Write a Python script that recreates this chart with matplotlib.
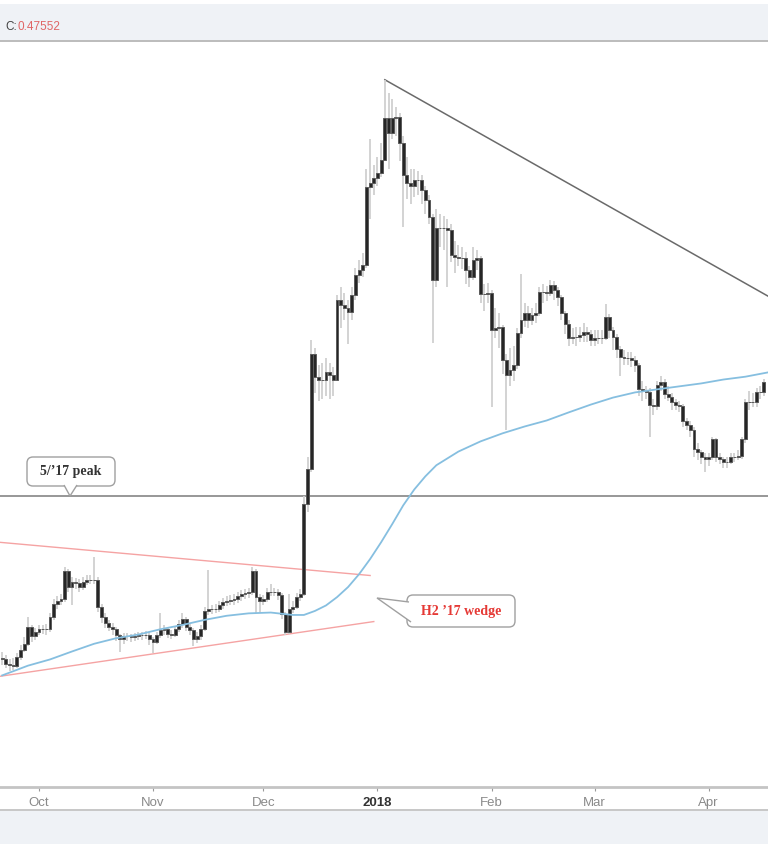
import matplotlib
matplotlib.use('Agg')
import matplotlib.pyplot as plt
import matplotlib.dates as mdates
import matplotlib.transforms as mtransforms
from matplotlib.patches import FancyBboxPatch, Polygon, Rectangle
import numpy as np
import pandas as pd

W, H = 768, 844

# daily candles, first one on 2017-09-21
start_day = '2017-09-21'
first_open = 0.190
closes = [
    0.189, 0.185, 0.184, 0.183, 0.191, 0.199, 0.205, 0.224, 0.213, 0.218,
    0.221, 0.221, 0.221, 0.235, 0.252, 0.256, 0.258, 0.299, 0.275, 0.282,
    0.281, 0.275, 0.283, 0.285, 0.285, 0.286, 0.248, 0.235, 0.228, 0.224,
    0.221, 0.214, 0.210, 0.213, 0.213, 0.212, 0.213, 0.214, 0.214, 0.215,
    0.210, 0.207, 0.214, 0.220, 0.221, 0.216, 0.215, 0.221, 0.227, 0.233,
    0.224, 0.220, 0.210, 0.213, 0.221, 0.243, 0.245, 0.245, 0.246, 0.250,
    0.254, 0.256, 0.257, 0.258, 0.262, 0.265, 0.266, 0.268, 0.299, 0.261,
    0.256, 0.258, 0.268, 0.268, 0.268, 0.264, 0.239, 0.218, 0.245, 0.248,
    0.261, 0.265, 0.422, 0.506, 0.918, 0.818, 0.806, 0.806, 0.840, 0.827,
    0.806, 1.219, 1.188, 1.170, 1.146, 1.251, 1.388, 1.424, 1.462, 2.188,
    2.234, 2.293, 2.353, 2.517, 3.127, 2.894, 3.127, 3.140, 2.748, 2.328,
    2.234, 2.200, 2.269, 2.269, 2.154, 2.046, 1.873, 1.353, 1.770, 1.770,
    1.770, 1.752, 1.540, 1.520, 1.516, 1.516, 1.424, 1.374, 1.500, 1.516,
    1.257, 1.257, 1.264, 1.044, 1.055, 1.060, 0.894, 0.827, 0.849, 0.871,
    1.028, 1.100, 1.140, 1.100, 1.128, 1.140, 1.270, 1.270, 1.264, 1.318,
    1.284, 1.238, 1.140, 1.072, 1.002, 1.007, 1.007, 1.017, 1.033, 1.022,
    0.991, 1.002, 1.002, 1.002, 1.117, 1.044, 1.007, 0.942, 0.908, 0.903,
    0.903, 0.894, 0.871, 0.766, 0.758, 0.754, 0.708, 0.701, 0.785, 0.794,
    0.746, 0.738, 0.716, 0.708, 0.701, 0.649, 0.638, 0.622, 0.561, 0.553,
    0.539, 0.533, 0.539, 0.591, 0.539, 0.533, 0.525, 0.525, 0.539, 0.539,
    0.542, 0.591, 0.716, 0.716, 0.719, 0.754, 0.754, 0.794,
]
highs = [
    0.196, 0.193, 0.189, 0.190, 0.195, 0.204, 0.212, 0.236, 0.226, 0.222,
    0.226, 0.226, 0.227, 0.240, 0.258, 0.262, 0.265, 0.305, 0.302, 0.290,
    0.288, 0.287, 0.290, 0.292, 0.293, 0.322, 0.289, 0.252, 0.240, 0.232,
    0.228, 0.224, 0.216, 0.217, 0.217, 0.216, 0.217, 0.218, 0.218, 0.219,
    0.218, 0.212, 0.218, 0.241, 0.226, 0.224, 0.220, 0.225, 0.232, 0.240,
    0.236, 0.228, 0.222, 0.218, 0.226, 0.248, 0.300, 0.251, 0.252, 0.256,
    0.260, 0.262, 0.264, 0.265, 0.268, 0.271, 0.272, 0.274, 0.305, 0.302,
    0.265, 0.264, 0.274, 0.280, 0.274, 0.272, 0.267, 0.242, 0.265, 0.256,
    0.266, 0.272, 0.440, 0.540, 0.990, 0.950, 0.870, 0.880, 0.900, 0.880,
    0.860, 1.250, 1.300, 1.260, 1.220, 1.300, 1.440, 1.500, 1.550, 2.400,
    2.800, 2.450, 2.550, 2.750, 3.810, 3.550, 3.450, 3.300, 3.200, 2.850,
    2.550, 2.400, 2.400, 2.380, 2.320, 2.200, 2.100, 1.900, 1.950, 1.900,
    1.880, 1.850, 1.800, 1.650, 1.620, 1.600, 1.560, 1.450, 1.600, 1.580,
    1.530, 1.320, 1.330, 1.280, 1.170, 1.140, 1.070, 0.920, 0.950, 0.960,
    1.050, 1.390, 1.200, 1.180, 1.170, 1.200, 1.300, 1.320, 1.310, 1.350,
    1.340, 1.300, 1.250, 1.150, 1.100, 1.050, 1.060, 1.060, 1.080, 1.060,
    1.040, 1.040, 1.040, 1.040, 1.190, 1.130, 1.060, 1.020, 0.960, 0.940,
    0.930, 0.930, 0.910, 0.880, 0.800, 0.780, 0.770, 0.730, 0.800, 0.820,
    0.810, 0.780, 0.750, 0.730, 0.720, 0.710, 0.660, 0.650, 0.630, 0.580,
    0.560, 0.550, 0.550, 0.600, 0.595, 0.550, 0.540, 0.540, 0.550, 0.550,
    0.560, 0.600, 0.730, 0.760, 0.750, 0.770, 0.780, 0.810,
]
lows = [
    0.184, 0.181, 0.178, 0.179, 0.181, 0.188, 0.196, 0.203, 0.207, 0.209,
    0.214, 0.216, 0.215, 0.218, 0.232, 0.245, 0.250, 0.255, 0.268, 0.250,
    0.272, 0.268, 0.271, 0.278, 0.279, 0.279, 0.242, 0.228, 0.222, 0.219,
    0.215, 0.208, 0.196, 0.205, 0.208, 0.207, 0.208, 0.209, 0.209, 0.210,
    0.204, 0.195, 0.205, 0.211, 0.215, 0.211, 0.210, 0.212, 0.218, 0.223,
    0.219, 0.214, 0.203, 0.206, 0.209, 0.219, 0.238, 0.239, 0.240, 0.242,
    0.246, 0.249, 0.250, 0.251, 0.253, 0.256, 0.259, 0.260, 0.264, 0.241,
    0.242, 0.250, 0.254, 0.262, 0.262, 0.257, 0.233, 0.215, 0.216, 0.240,
    0.245, 0.256, 0.262, 0.405, 0.500, 0.750, 0.720, 0.730, 0.740, 0.730,
    0.740, 0.800, 1.050, 1.100, 0.970, 1.100, 1.220, 1.330, 1.370, 1.440,
    1.850, 2.100, 2.200, 2.300, 2.500, 2.400, 2.800, 2.850, 2.500, 1.780,
    2.050, 2.000, 2.080, 2.100, 2.000, 1.900, 1.800, 0.976, 1.300, 1.600,
    1.580, 1.300, 1.480, 1.400, 1.450, 1.430, 1.320, 1.300, 1.350, 1.420,
    1.200, 1.150, 1.200, 0.700, 1.000, 0.950, 0.830, 0.620, 0.780, 0.800,
    0.850, 1.000, 1.060, 1.050, 1.070, 1.080, 1.120, 1.200, 1.210, 1.240,
    1.220, 1.180, 1.100, 1.020, 0.960, 0.970, 0.960, 0.980, 0.980, 0.980,
    0.960, 0.960, 0.970, 0.970, 0.990, 1.000, 0.940, 0.900, 0.820, 0.870,
    0.870, 0.860, 0.840, 0.740, 0.720, 0.730, 0.600, 0.670, 0.690, 0.760,
    0.730, 0.720, 0.690, 0.690, 0.680, 0.630, 0.620, 0.600, 0.540, 0.530,
    0.520, 0.500, 0.515, 0.530, 0.525, 0.520, 0.510, 0.510, 0.520, 0.525,
    0.530, 0.535, 0.580, 0.690, 0.700, 0.700, 0.730, 0.740,
]

# moving average (blue)
ma_dates = [
    '2017-09-21', '2017-09-28', '2017-10-04', '2017-10-10', '2017-10-16',
    '2017-10-22', '2017-10-28', '2017-11-03', '2017-11-09', '2017-11-15',
    '2017-11-21', '2017-11-27', '2017-12-03', '2017-12-09', '2017-12-12',
    '2017-12-15', '2017-12-18', '2017-12-21', '2017-12-24', '2017-12-27',
    '2017-12-30', '2018-01-02', '2018-01-05', '2018-01-08', '2018-01-11',
    '2018-01-14', '2018-01-17', '2018-01-23', '2018-01-29', '2018-02-04',
    '2018-02-10', '2018-02-16', '2018-02-22', '2018-02-28', '2018-03-06',
    '2018-03-12', '2018-03-18', '2018-03-24', '2018-03-30', '2018-04-05',
    '2018-04-11', '2018-04-17',
]
ma_values = [
    0.174, 0.183, 0.189, 0.197, 0.205, 0.211, 0.215, 0.221, 0.226, 0.232,
    0.237, 0.240, 0.241, 0.238, 0.238, 0.243, 0.250, 0.261, 0.275, 0.294,
    0.318, 0.347, 0.381, 0.420, 0.456, 0.488, 0.517, 0.555, 0.585, 0.610,
    0.632, 0.652, 0.680, 0.708, 0.734, 0.754, 0.766, 0.778, 0.790, 0.806,
    0.818, 0.836,
]

peak_level = 0.44
wedge_upper_dates = ['2017-09-20', '2017-12-30']
wedge_upper = [0.347, 0.292]
wedge_lower_dates = ['2017-09-20', '2017-12-31']
wedge_lower = [0.173, 0.230]
trend_dates = ['2018-01-03', '2018-04-18']
trend_values = [3.81, 1.23]

tick_dates = ['2017-10-01', '2017-11-01', '2017-12-01', '2018-01-01',
              '2018-02-01', '2018-03-01', '2018-04-01']
tick_labels = ['Oct', 'Nov', 'Dec', '2018', 'Feb', 'Mar', 'Apr']


def d2n(lst):
    return mdates.date2num(pd.to_datetime(lst))


fig = plt.figure(figsize=(W / 100, H / 100), dpi=100)
fig.patch.set_facecolor('white')
pix = mtransforms.IdentityTransform()


def band(y0, y1, color):
    fig.patches.append(Rectangle((0, H - y1), W, y1 - y0, transform=pix,
                                 facecolor=color, edgecolor='none', zorder=0))


band(4, 40, '#eff2f6')
band(40, 42, '#bdbdbd')
band(809, 811, '#c8c8c8')
band(811, 844, '#eff2f6')

ax = fig.add_axes([0, (H - 787) / H, 1, (787 - 42) / H])
ax.set_yscale('log')

x = mdates.date2num(pd.date_range(start_day, periods=len(closes)))
opens = [first_open] + closes[:-1]
o = np.array(opens)
c = np.array(closes)

ax.vlines(x, lows, highs, color='#d0d0d0', lw=1.3, zorder=2)
ax.bar(x, np.abs(c - o), bottom=np.minimum(o, c), width=0.78,
       color='#262626', edgecolor='#5a5a5a', lw=0.7, zorder=3)

ax.plot(d2n(ma_dates), ma_values, color='#86bfe0', lw=1.3, zorder=4)
ax.axhline(peak_level, color='#7a7a7a', lw=1.1, zorder=1)
ax.plot(d2n(wedge_upper_dates), wedge_upper, color='#f5a3a3', lw=1.0, zorder=1)
ax.plot(d2n(wedge_lower_dates), wedge_lower, color='#f5a3a3', lw=1.0, zorder=1)
ax.plot(d2n(trend_dates), trend_values, color='#6a6a6a', lw=1.1, zorder=1)

ax.set_xlim(mdates.date2num(pd.Timestamp('2017-09-20 10:00')),
            mdates.date2num(pd.Timestamp('2018-04-17 03:00')))
ax.set_ylim(0.0976, 4.633)

ax.set_xticks(d2n(tick_dates))
ax.set_xticklabels(tick_labels)
ax.yaxis.set_visible(False)
ax.minorticks_off()
ax.tick_params(axis='x', length=3, color='#999999', pad=4,
               labelsize=9.5, labelcolor='#8a8a8a')
for lab in ax.get_xticklabels():
    lab.set_family('Liberation Sans')
    if lab.get_text() == '2018':
        lab.set_color('#333333')
        lab.set_fontweight('bold')
for s in ['top', 'left', 'right']:
    ax.spines[s].set_visible(False)
ax.spines['bottom'].set_color('#c4c4c4')
ax.spines['bottom'].set_linewidth(2)


def callout(x0, y0, x1, y1, base1, tip, base2, text, color):
    box = FancyBboxPatch((x0, H - y1), x1 - x0, y1 - y0,
                         boxstyle='round,pad=0,rounding_size=6',
                         transform=pix, facecolor='white',
                         edgecolor='#a0a0a0', lw=1.0, zorder=5)
    fig.patches.append(box)
    ptr = Polygon([(base1[0], H - base1[1]), (tip[0], H - tip[1]),
                   (base2[0], H - base2[1])], closed=False, transform=pix,
                  facecolor='white', edgecolor='#a0a0a0', lw=1.0, zorder=6)
    fig.patches.append(ptr)
    fig.text((x0 + x1) / 2 / W, 1 - (y0 + y1) / 2 / H, text, color=color,
             ha='center', va='center', fontsize=10, fontweight='bold',
             family='Liberation Serif', zorder=7)


callout(27, 457, 115, 486, (64, 485), (70, 496), (77, 485),
        "5/\u201917 peak", '#333333')
callout(407, 595, 515, 627, (409, 602), (377, 598), (411, 622),
        "H2 \u201917 wedge", '#e53935')

fig.text(5 / W, 1 - 27 / H, 'C:', color='#444444', fontsize=8.5,
         va='center', family='Liberation Sans')
fig.text(17 / W, 1 - 27 / H, '0.47552', color='#e06666', fontsize=8.5,
         va='center', family='Liberation Sans')

fig.savefig('out.png', dpi=100)
